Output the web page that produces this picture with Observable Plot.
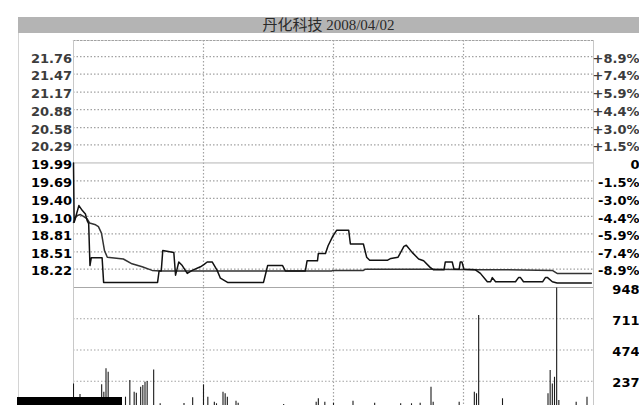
<!DOCTYPE html>
<html><head><meta charset="utf-8">
<script src="https://cdn.jsdelivr.net/npm/d3@7"></script>
<script src="https://cdn.jsdelivr.net/npm/@observablehq/plot@0.6"></script>
<style>
html,body{margin:0;padding:0;background:#fff;width:639px;height:405px;overflow:hidden;}
#wrap{position:relative;width:639px;height:405px;}
#title{position:absolute;left:18px;top:17px;width:621px;height:16px;background:#b4b4b4;color:#2a2a2a;font:15px "Liberation Serif","Noto Sans CJK SC",serif;line-height:16px;text-align:center;}
#frameLeft{position:absolute;left:18px;top:33px;width:1px;height:372px;background:#d4d4d4;}
#blk{position:absolute;left:17px;top:397px;width:105px;height:8px;background:#000;}
#price,#vol{position:absolute;left:0;}
#price{top:0;}
#vol{top:281px;}
</style></head>
<body>
<div id="wrap">
  <div id="title">丹化科技 2008/04/02</div>
  <div id="frameLeft"></div>
  <div id="price"></div>
  <div id="vol"></div>
  <div id="blk"></div>
</div>
<script>
// ---- data ----
const prevClose = 19.99;
const priceTicks = [21.76,21.47,21.17,20.88,20.58,20.29,19.99,19.69,19.40,19.10,18.81,18.51,18.22];
const priceLabels = ["21.76","21.47","21.17","20.88","20.58","20.29","19.99","19.69","19.40","19.10","18.81","18.51","18.22"];
const pctLabels = ["+8.9%","+7.4%","+5.9%","+4.4%","+3.0%","+1.5%","0","-1.5%","-3.0%","-4.4%","-5.9%","-7.4%","-8.9%"];
const hourTicks = [60,120,180];
const volTicks = [948,711,474,237];

const priceMin = [0,0.3,2.5,4,5.5,6.3,7,7.6,8.2,13.2,13.9,38.8,39.5,40.5,41.2,46.3,47.1,48.6,50.2,52.5,54.8,58.6,60.3,61.7,64,66.3,67.8,71.1,87.7,89,89.6,96.5,97.8,107,107.8,112.6,113,116.3,117.5,119.7,121.5,127,127.8,133.8,135.3,136.7,145,146.5,149.8,152.5,153.6,156.3,159.3,161.6,164.6,166.2,171,171.6,174.8,175.6,178,178.5,179.3,180.2,185.5,187.8,191,192.5,193.3,194.8,204,205.4,206.3,207.7,216.5,217.8,218.8,221,223.2,239];
const priceVal = [19.99,19.00,19.28,19.20,19.14,19.03,18.98,18.28,18.41,18.41,18.00,18.00,18.19,18.19,18.53,18.50,18.12,18.34,18.28,18.15,18.20,18.26,18.30,18.34,18.34,18.20,18.07,18.00,18.00,18.19,18.28,18.28,18.19,18.19,18.36,18.36,18.48,18.48,18.61,18.77,18.87,18.87,18.64,18.64,18.42,18.37,18.37,18.40,18.42,18.60,18.62,18.50,18.39,18.36,18.25,18.21,18.21,18.34,18.34,18.22,18.22,18.34,18.34,18.22,18.21,18.15,18.01,18.01,18.08,18.01,18.01,18.08,18.08,18.01,18.01,18.08,18.08,18.01,17.99,17.99];

const avgMin = [0,1.4,3.2,4.6,6.3,7.4,10.2,11.5,12.9,14.3,15.6,23,27,31.7,36.3,40,119,120,133.8,134.8,166,187,200,221,223.2,239];
const avgVal = [19.00,19.11,19.13,19.10,19.06,18.99,18.96,18.93,18.82,18.53,18.42,18.39,18.31,18.26,18.20,18.19,18.19,18.20,18.20,18.22,18.22,18.21,18.21,18.20,18.15,18.15];

const volMin = [0,3,13,14,15,16,24,26,28,29,31,32,33,34,37,40,51,55,60,62,65,66,69,70,71,75,76,97,112,113,116,120,129,139,151,156,160,165,166,178,185,186,187,198,219,220,221,222,223,224,232,237];
const volVal = [217,136,210,154,331,305,116,242,154,146,192,205,230,235,323,66,68,111,210,116,78,66,154,142,116,86,70,60,78,104,78,70,86,70,66,66,70,192,78,78,154,142,735,104,142,318,217,267,945,91,78,116];

// ---- build ----
const priceData = priceMin.map((m,i)=>({m, p: priceVal[i]}));
const avgData = avgMin.map((m,i)=>({m, p: avgVal[i]}));
const volData = volMin.map((m,i)=>({m, v: volVal[i]}));
const idx = priceTicks.map((v,i)=>i);
const upperIdx = idx.filter(i => priceTicks[i] > prevClose);
const lowerIdx = idx.filter(i => priceTicks[i] <= prevClose);
const gridTicks = priceTicks.filter(v => v !== prevClose);

const dotted = {stroke:"#a2a2a2", strokeOpacity:1, strokeWidth:1.2, strokeDasharray:"1.5,2"};
const fontStyle = {fontFamily:"DejaVu Sans", fontSize:"13px", fontWeight:"bold", background:"transparent", overflow:"visible"};

const pricePlot = Plot.plot({
  width: 639, height: 290,
  marginTop: 40, marginBottom: 3, marginLeft: 73, marginRight: 46,
  style: fontStyle,
  x: {domain:[0,240], axis:null, label:null},
  y: {domain:[17.915,22.03], axis:null, label:null},
  marks: [
    Plot.ruleY(gridTicks, {y: d => d, ...dotted}),
    Plot.ruleX(hourTicks, {x: d => d, ...dotted}),
    Plot.frame({anchor:"top", ...dotted}),
    Plot.frame({anchor:"left", stroke:"#c8c8c8"}),
    Plot.frame({anchor:"right", stroke:"#c8c8c8"}),
    Plot.frame({anchor:"bottom", stroke:"#a8a8a8"}),
    Plot.ruleY([prevClose], {stroke:"#b4b4b4"}),
    Plot.line(avgData, {x:"m", y:"p", stroke:"#333", strokeWidth:1.5}),
    Plot.line(priceData, {x:"m", y:"p", stroke:"#111", strokeWidth:1.5}),
    Plot.text(upperIdx, {y:i=>priceTicks[i], text:i=>priceLabels[i], frameAnchor:"left", dx:-1.5, dy:2, textAnchor:"end", fill:"#3c3c3c"}),
    Plot.text(lowerIdx, {y:i=>priceTicks[i], text:i=>priceLabels[i], frameAnchor:"left", dx:-1.5, dy:2, textAnchor:"end", fill:"#000"}),
    Plot.text(upperIdx, {y:i=>priceTicks[i], text:i=>pctLabels[i], frameAnchor:"right", dx:46, dy:2, textAnchor:"end", fill:"#3c3c3c"}),
    Plot.text(lowerIdx, {y:i=>priceTicks[i], text:i=>pctLabels[i], frameAnchor:"right", dx:46, dy:2, textAnchor:"end", fill:"#000"})
  ]
});
document.getElementById("price").appendChild(pricePlot);

const volPlot = Plot.plot({
  width: 639, height: 124,
  marginTop: 6, marginBottom: 0, marginLeft: 73, marginRight: 46,
  style: fontStyle,
  x: {domain:[0,240], axis:null, label:null},
  y: {domain:[53,948], axis:null, label:null},
  marks: [
    Plot.ruleY(volTicks.slice(1), {y: d => d, ...dotted}),
    Plot.ruleX(hourTicks, {x: d => d, ...dotted}),
    Plot.frame({anchor:"left", stroke:"#c8c8c8"}),
    Plot.frame({anchor:"right", stroke:"#c8c8c8"}),
    Plot.ruleX(volData, {x:"m", y1:0, y2:"v", stroke:"#1a1a1a", strokeWidth:1.1, clip:true}),
    Plot.text(volTicks, {y:d=>d, text:d=>String(d), frameAnchor:"right", dx:46, dy:2, textAnchor:"end", fill:"#000"})
  ]
});
document.getElementById("vol").appendChild(volPlot);
</script>
</body></html>
